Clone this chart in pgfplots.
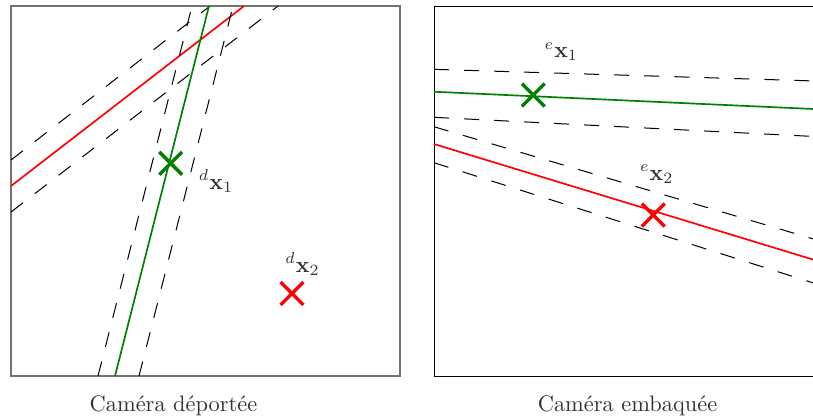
\documentclass[border=0pt]{standalone}
\usepackage{pgfplots}
\pgfplotsset{compat=1.18}
\definecolor{dgreen}{RGB}{0,128,0}
\definecolor{txtgray}{RGB}{50,50,50}
\pgfplotsset{
  panel/.style={
    scale only axis, width=173.5pt, height=165pt,
    xmin=0, xmax=389, ymin=0, ymax=370,
    ticks=none, clip=false, axis line style={line width=0.45pt},
  },
  solidl/.style={line width=0.75pt, no marks},
  dashl/.style={black, line width=0.45pt, dash pattern=on 6.7pt off 6.7pt, no marks},
  cross/.style={only marks, mark=x, mark size=7.2pt, mark options={line width=1.5pt}},
}
\begin{document}
\begin{tikzpicture}
\useasboundingbox (-4.906pt,-19.18pt) rectangle (357.69pt,167.7pt);
\clip (-4.906pt,-19.18pt) rectangle (357.69pt,167.7pt);
% Left panel: camera deportee
\begin{axis}[panel, at={(0pt,0pt)}, anchor=origin, axis line style={black!55, line width=0.5pt}]
  \addplot[dashl] coordinates {(0,216) (199,370)};
  \addplot[dashl] coordinates {(0,164) (267,370)};
  \addplot[solidl, red] coordinates {(0,190) (233,370)};
  \addplot[dashl] coordinates {(87,0) (181,370)};
  \addplot[dashl] coordinates {(128,0) (222,370)};
  \addplot[solidl, dgreen] coordinates {(104,0) (198,370)};
  \addplot[cross, dgreen] coordinates {(159.7,212.7)};
  \addplot[cross, red] coordinates {(281,82.5)};
  \node[anchor=base, text=txtgray] at (axis cs:205,187) {$^{d}\mathbf{x}_1$};
  \node[anchor=base, text=txtgray] at (axis cs:291.5,104) {$^{d}\mathbf{x}_2$};
  \node[anchor=base, text=txtgray] at (axis cs:162.5,-35) {Caméra déportée};
\end{axis}
% Right panel: camera embarquee
\begin{axis}[panel, at={(188.66pt,0pt)}, anchor=origin]
  \addplot[dashl] coordinates {(0,306.7) (389,294.8)};
  \addplot[dashl] coordinates {(0,258.7) (389,239.1)};
  \addplot[solidl, dgreen] coordinates {(0,284.3) (389,266.6)};
  \addplot[dashl] coordinates {(0,249.3) (389,134.2)};
  \addplot[dashl] coordinates {(0,213.3) (389,90.0)};
  \addplot[solidl, red] coordinates {(0,232) (389,113.4)};
  \addplot[cross, dgreen] coordinates {(99.3,281)};
  \addplot[cross, red] coordinates {(219.3,161)};
  \node[anchor=base, text=txtgray] at (axis cs:127.3,318.7) {$^{e}\mathbf{x}_1$};
  \node[anchor=base, text=txtgray] at (axis cs:222.7,196) {$^{e}\mathbf{x}_2$};
  \node[anchor=base, text=txtgray] at (axis cs:193.5,-35) {Caméra embaquée};
\end{axis}
\end{tikzpicture}
\end{document}
